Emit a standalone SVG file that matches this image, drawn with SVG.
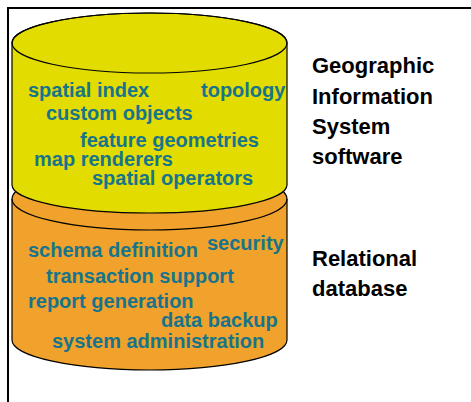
<svg xmlns="http://www.w3.org/2000/svg" width="471" height="402" viewBox="0 0 471 402">
<style>
.frame{fill:none;stroke:#000;stroke-width:2}
.cyl{stroke:#000;stroke-width:1.2}
.item{font-family:"Liberation Sans",Arial,sans-serif;font-weight:bold;font-size:20px;fill:#17748A}
.label{font-family:"Liberation Sans",Arial,sans-serif;font-weight:bold;font-size:22px;fill:#000}
</style>
<rect width="471" height="402" fill="#fff"/>
<g id="frame">
<path class="frame" d="M8,402 L8,8 L471,8"/>
</g>
<g id="rdbms">
<path class="cyl" fill="#F0A22D" d="M12,199 L12,340 A137.5,30 0 0 0 287,340 L287,199 A137.5,31 0 0 0 12,199 Z"/>
<path class="cyl" fill="none" d="M12,199 A137.5,31 0 0 0 287,199"/>
<text class="item" x="28" y="257">schema definition</text>
<text class="item" x="207" y="250">security</text>
<text class="item" x="46" y="283">transaction support</text>
<text class="item" x="28" y="308">report generation</text>
<text class="item" x="161" y="327">data backup</text>
<text class="item" x="52" y="348">system administration</text>
</g>
<g id="gis">
<path class="cyl" fill="#E3DC00" d="M12,43 L12,185 A137.5,28 0 0 0 287,185 L287,43 A137.5,30 0 0 0 12,43 Z"/>
<ellipse class="cyl" fill="none" cx="149.5" cy="43" rx="137.5" ry="30"/>
<text class="item" x="28" y="97">spatial index</text>
<text class="item" x="201" y="97">topology</text>
<text class="item" x="46" y="120">custom objects</text>
<text class="item" x="80" y="147">feature geometries</text>
<text class="item" x="34" y="166">map renderers</text>
<text class="item" x="92" y="185">spatial operators</text>
</g>
<g id="gis-label">
<text class="label" x="312" y="73">Geographic</text>
<text class="label" x="312" y="104">Information</text>
<text class="label" x="312" y="134">System</text>
<text class="label" x="312" y="164">software</text>
</g>
<g id="rdbms-label">
<text class="label" x="312" y="266">Relational</text>
<text class="label" x="312" y="296">database</text>
</g>
<g id="connectors"></g>
</svg>
